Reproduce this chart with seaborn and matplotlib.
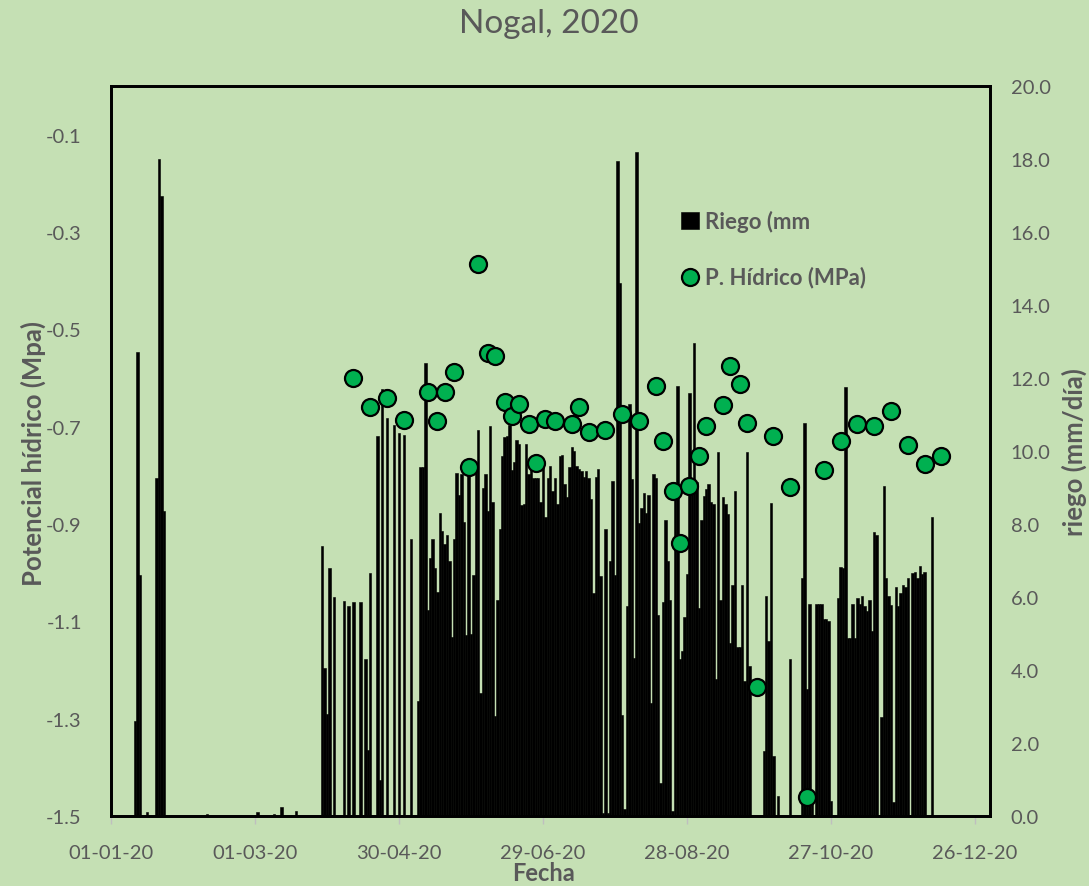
import numpy as np
import pandas as pd
import matplotlib
matplotlib.use("Agg")
import matplotlib.pyplot as plt
import seaborn as sns

# ---------------- data ----------------
title = "Nogal, 2020"
x_tick_days = [0, 60, 120, 180, 240, 300, 360]
x_tick_labels = ["01-01-20", "01-03-20", "30-04-20", "29-06-20", "28-08-20", "27-10-20", "26-12-20"]
left_ticks = [-1.5, -1.3, -1.1, -0.9, -0.7, -0.5, -0.3, -0.1]
right_ticks = [0, 2, 4, 6, 8, 10, 12, 14, 16, 18, 20]

# riego (mm/día): isolated days
riego_sparse_days = [10, 11, 12, 15, 19, 20, 21, 22, 40, 61, 68, 71, 77,
                     88, 89, 90, 91, 93, 97, 99, 101, 104, 106, 107, 108, 111, 112, 113,
                     115, 118, 120, 122, 125, 128, 129, 130, 131, 132,
                     272, 273, 274, 275, 276, 278, 283, 288, 289, 290, 291, 292, 342]
riego_sparse_vals = [2.6, 12.7, 6.6, 0.1, 9.25, 18.0, 17.0, 8.35, 0.05, 0.1, 0.05, 0.25, 0.15,
                     7.4, 4.05, 2.8, 6.8, 6.0, 5.9, 5.75, 5.85, 5.85, 4.3, 1.8, 6.65, 10.4, 1.0, 11.7,
                     10.9, 10.7, 10.5, 10.45, 7.6, 3.15, 9.55, 9.55, 12.4, 5.65,
                     1.77, 6.04, 4.8, 8.58, 1.65, 0.54, 4.29, 6.51, 10.76, 3.47, 5.81, 0.42, 8.19]
# riego (mm/día): consecutive daily blocks
riego_block_133 = [7.07, 7.6, 6.8, 6.14, 8.3, 7.82, 7.45, 7.7, 6.98, 4.9, 7.6, 9.4, 8.8, 9.36,
                   8.06, 4.95, 9.4, 5.0, 6.6, 9.44, 10.57, 3.38, 9.0, 9.38, 8.35, 10.69, 8.6,
                   2.74, 5.92, 7.86, 9.85, 10.37, 10.4, 10.7, 9.47, 9.7, 10.3, 10.2, 8.52, 8.56,
                   10.2, 9.38, 9.5, 9.26, 9.26, 9.26, 8.6]
riego_block_180 = [9.6, 8.2, 9.26, 9.6, 8.9, 9.26, 8.56, 9.85, 9.9, 9.1, 8.73, 9.55, 10.1, 10.0,
                   9.6, 9.5, 9.44, 9.3, 9.44, 9.26, 8.68, 6.1, 9.3, 9.5, 6.57, 0.07, 7.86, 0.07,
                   6.98, 9.17, 6.6, 17.95, 14.6, 2.76, 0.19, 5.75, 11.3, 9.24, 4.34, 18.2, 8.03,
                   8.44, 8.85, 8.3, 8.8, 3.1, 9.38]
riego_block_227 = [9.26, 5.5, 0.9, 5.87, 8.1, 6.98, 5.92, 0.13, 8.97, 11.78, 4.29, 4.52, 5.46,
                   6.63, 11.58, 9.15, 12.95, 9.15, 5.69, 8.1, 8.77, 8.97, 9.09, 8.6, 8.56, 3.76,
                   9.96, 5.92, 8.73, 8.56, 8.27, 4.75, 6.33, 8.9, 4.64, 4.64, 6.33, 3.7, 9.96, 4.1]
riego_block_294 = [5.81, 5.81, 5.81, 5.4, 5.4, 5.34, 0.42]
riego_block_303 = [5.98, 6.83, 6.8, 11.74, 4.87, 4.87, 5.81, 4.87, 5.96, 5.81, 6.04, 5.75, 5.63,
                   5.92, 5.07, 7.78, 7.7]
riego_block_321 = [2.7, 9.03, 6.51, 6.04, 5.78, 0.39, 6.28, 5.75, 6.1, 6.33, 6.28, 6.51]
riego_block_334 = [6.65, 6.69, 6.53, 6.86, 6.63, 6.69]

# potencial hídrico (MPa)
ph_days = [101, 108, 115, 122, 132, 136, 139, 143, 149, 153, 157, 160, 164, 167, 170, 174, 177,
           181, 185, 192, 195, 199, 206, 213, 220, 227, 230, 234, 237, 241, 245, 248, 255, 258,
           262, 265, 269, 276, 283, 290, 297, 304, 311, 318, 325, 332, 339, 346]
ph_vals = [-0.600, -0.660, -0.641, -0.686, -0.629, -0.689, -0.629, -0.588, -0.783, -0.365,
           -0.549, -0.555, -0.650, -0.678, -0.654, -0.695, -0.775, -0.684, -0.689, -0.695,
           -0.660, -0.711, -0.707, -0.674, -0.689, -0.617, -0.730, -0.832, -0.940, -0.822,
           -0.760, -0.699, -0.656, -0.576, -0.613, -0.693, -1.234, -0.719, -0.824, -1.461,
           -0.789, -0.730, -0.695, -0.699, -0.668, -0.738, -0.777, -0.760]

# ---------------- build tables ----------------
n_days = 366
riego = np.zeros(n_days)
for d, v in zip(riego_sparse_days, riego_sparse_vals):
    riego[d] = v
for start, block in [(133, riego_block_133), (180, riego_block_180), (227, riego_block_227),
                     (294, riego_block_294), (303, riego_block_303), (321, riego_block_321),
                     (334, riego_block_334)]:
    riego[start:start + len(block)] = block
df_riego = pd.DataFrame({"dia": np.arange(n_days), "riego": riego})
df_ph = pd.DataFrame({"dia": ph_days, "ph": ph_vals})

# ---------------- style ----------------
sns.set_theme(style="white")
BG = "#C5E0B4"
GRAY = "#595959"
FONT = ["Lato", "DejaVu Sans"]
plt.rcParams["font.family"] = FONT

fig = plt.figure(figsize=(10.89, 8.87), dpi=100, facecolor=BG)
W, H = 1089, 887
ax = fig.add_axes([111 / W, 1 - 817 / H, (990 - 111) / W, (817 - 87) / H])
ax.set_facecolor(BG)

sns.barplot(data=df_riego, x="dia", y="riego", native_scale=True, color="black",
            saturation=1, width=1.0, linewidth=0.4, edgecolor="black", errorbar=None,
            ax=ax, label="Riego (mm", zorder=2)
if ax.get_legend() is not None:
    ax.get_legend().remove()

ax2 = ax.twinx()
sns.scatterplot(data=df_ph, x="dia", y="ph", ax=ax2, s=150, color="#00B050",
                edgecolor="black", linewidth=1.6, zorder=3, label="P. Hídrico (MPa)",
                legend=False)

# axes ranges / ticks
ax.set_xlim(0, 366.25)
ax.set_ylim(0, 20)
ax2.set_ylim(-1.5, 0.0)

ax.set_xticks(x_tick_days)
ax.set_xticklabels(x_tick_labels)
ax.set_yticks(right_ticks)
ax.set_yticklabels([f"{v:.1f}" for v in right_ticks])
ax2.set_yticks(left_ticks)
ax2.set_yticklabels([f"{v:.1f}" for v in left_ticks])

# bars axis on the right, potential axis on the left
ax.yaxis.tick_right()
ax2.yaxis.tick_left()

tick_fs = 14.5
for lab in ax.get_xticklabels() + ax.get_yticklabels() + ax2.get_yticklabels():
    lab.set_fontsize(tick_fs)
    lab.set_color(GRAY)

ax.tick_params(axis="x", which="both", bottom=True, length=6, width=1, color="#BFBFBF",
               direction="out", pad=14)
ax.tick_params(axis="y", length=0, pad=15)
ax2.tick_params(axis="y", length=0, pad=21)
ax2.tick_params(axis="x", bottom=False, labelbottom=False)

for a in (ax, ax2):
    for s in a.spines.values():
        s.set_color("black")
        s.set_linewidth(2)

ax.set_xlabel("")
ax.set_ylabel("")
ax2.set_ylabel("")

fig.text(543 / W, 1 - 874 / H, "Fecha", ha="center", va="center", fontsize=17,
         fontweight="bold", color=GRAY)
fig.text(33 / W, 1 - 454 / H, "Potencial hídrico (Mpa)", ha="center", va="center",
         rotation=90, fontsize=18.5, fontweight="bold", color=GRAY)
fig.text(1074 / W, 1 - 452 / H, "riego (mm/día)", ha="center", va="center",
         rotation=90, fontsize=18.5, fontweight="bold", color=GRAY)
fig.text(0.504, 1 - 24 / H, title, ha="center", va="center", fontsize=24, color=GRAY)

h1, l1 = ax.get_legend_handles_labels()
h2, l2 = ax2.get_legend_handles_labels()
leg = ax2.legend(h1[:1] + h2, l1[:1] + l2, loc="upper left",
                 bbox_to_anchor=((661 - 111) / 879, (817 - 191) / 730), frameon=False,
                 handlelength=0.8, handleheight=0.8, handletextpad=0.3, labelspacing=1.5,
                 prop={"family": FONT, "weight": "bold", "size": 16})
for t in leg.get_texts():
    t.set_color(GRAY)

fig.savefig("out.png", dpi=100, facecolor=BG)
